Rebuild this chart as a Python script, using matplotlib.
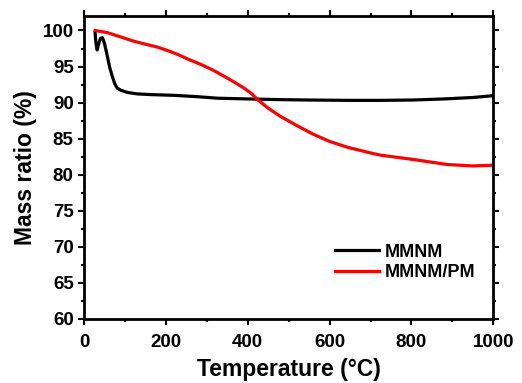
import matplotlib.pyplot as plt
from matplotlib.ticker import MultipleLocator

plt.rcParams['font.family'] = ['Liberation Sans', 'DejaVu Sans']
plt.rcParams['font.weight'] = 'bold'

# TGA curves: temperature (C) vs remaining mass (%)
mmnm_t = [27, 29, 32, 36, 40, 45, 50, 57, 63, 69, 75, 81, 90, 106, 130, 163, 220,
          280, 326, 400, 481, 550, 650, 720, 804, 880, 950, 1000]
mmnm_m = [99.7, 98.3, 97.3, 98.2, 98.9, 99.0, 98.2, 96.4, 94.8, 93.65, 92.6, 92.0,
          91.7, 91.4, 91.2, 91.1, 91.0, 90.8, 90.6, 90.5, 90.4, 90.35, 90.3, 90.3,
          90.35, 90.5, 90.7, 90.95]

pm_t = [27, 57, 90, 122, 150, 179, 205, 228, 255, 285, 315, 342, 368, 391, 410,
        424, 448, 479, 520, 560, 600, 643, 700, 724, 804, 887, 950, 1000]
pm_m = [100.0, 99.7, 99.1, 98.5, 98.1, 97.7, 97.2, 96.7, 96.0, 95.3, 94.5, 93.65,
        92.8, 92.0, 91.2, 90.4, 89.3, 88.1, 86.8, 85.6, 84.6, 83.8, 83.0, 82.7,
        82.1, 81.4, 81.2, 81.3]

fig, ax = plt.subplots(figsize=(5.22, 3.83), dpi=100)
fig.subplots_adjust(left=0.161, right=0.945, top=0.958, bottom=0.168)

ax.plot(mmnm_t, mmnm_m, color='black', lw=2.3, label='MMNM')
ax.plot(pm_t, pm_m, color='red', lw=2.3, label='MMNM/PM')

ax.set_xlim(0, 1000)
ax.set_ylim(60, 102)
ax.xaxis.set_major_locator(MultipleLocator(200))
ax.xaxis.set_minor_locator(MultipleLocator(100))
ax.yaxis.set_major_locator(MultipleLocator(5))
ax.yaxis.set_minor_locator(MultipleLocator(2.5))

for s in ax.spines.values():
    s.set_linewidth(2)
ax.tick_params(which='both', width=1.5, labelsize=13.5)
ax.tick_params(which='major', length=4)
ax.tick_params(which='minor', length=2.5)
ax.tick_params(which='both', top=True, right=True)
ax.tick_params(axis='x', which='major', pad=7)

ax.set_xlabel('Temperature (\u00b0C)', fontsize=16.5, fontweight='bold', labelpad=5)
ax.set_ylabel('Mass ratio (%)', fontsize=16.5, fontweight='bold', labelpad=4)

leg = ax.legend(loc='lower right', bbox_to_anchor=(0.995, 0.07), frameon=False,
                prop={'weight': 'bold', 'size': 13}, handlelength=2.45,
                handletextpad=0.3, labelspacing=0.2)

fig.savefig('out.png', dpi=100)
